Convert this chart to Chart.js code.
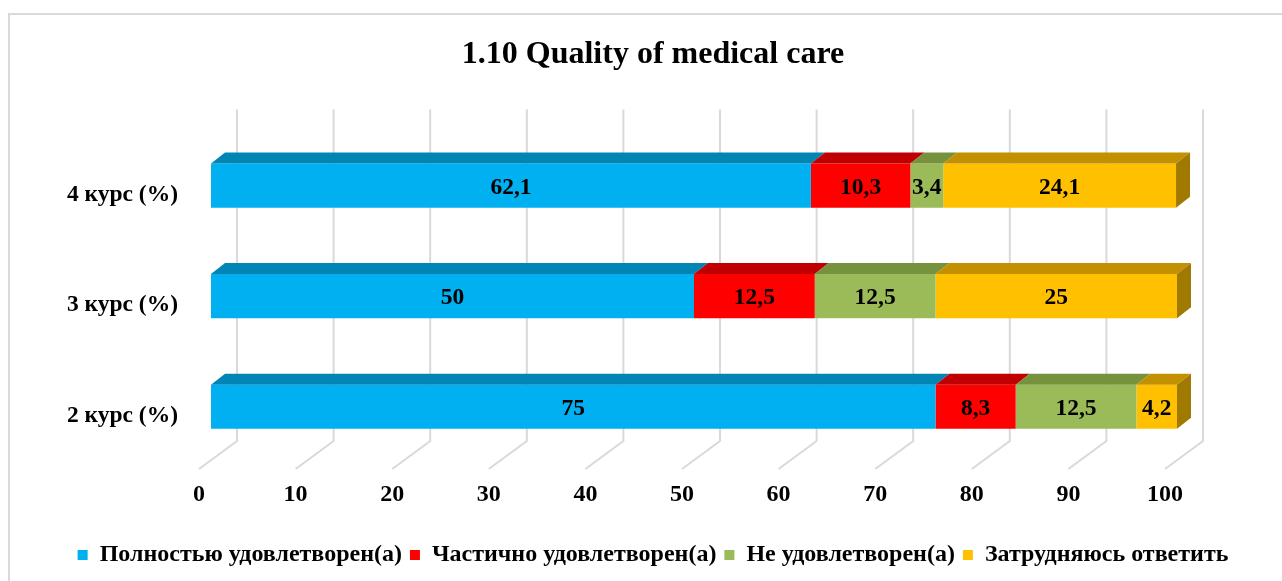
<!DOCTYPE html>
<html>
<head>
<meta charset="utf-8">
<script src="https://cdn.jsdelivr.net/npm/chart.js@4.4.1/dist/chart.umd.min.js"></script>
<style>
  html, body { margin: 0; padding: 0; background: #fff; }
  #wrap { position: relative; width: 1282px; height: 581px; overflow: hidden; }
  #frame { position: absolute; left: 8px; top: 13px; width: 1300px; height: 620px; border: 2px solid #d9d9d9; }
  #chart { position: absolute; left: 0; top: 0; }
</style>
</head>
<body>
<div id="wrap">
  <div id="frame"></div>
  <canvas id="chart" width="1282" height="581"></canvas>
</div>
<script>
(function(){
  var categories = ['4 курс (%)', '3 курс (%)', '2 курс (%)'];
  var seriesNames = ['Полностью удовлетворен(а)', 'Частично удовлетворен(а)', 'Не удовлетворен(а)', 'Затрудняюсь ответить'];
  var fullySatisfied = [62.1, 50, 75];
  var partlySatisfied = [10.3, 12.5, 8.3];
  var notSatisfied = [3.4, 12.5, 12.5];
  var hardToSay = [24.1, 25, 4.2];
  var xTicks = [0, 10, 20, 30, 40, 50, 60, 70, 80, 90, 100];

  var frontColors = ['#00b0f0', '#ff0000', '#9bbb59', '#ffc000'];
  var topColors = ['#0085b5', '#c00000', '#76923c', '#c29000'];
  var sideColor = '#a07a00';
  var serif = "'Liberation Serif', 'Times New Roman', serif";

  // 3D offsets
  var BAR_DX = 14, BAR_DY = 11;
  var WALL_DX = 26, FLOOR_DX = 12;

  function fmt(v){
    return String(v).replace('.', ',');
  }

  var depthPlugin = {
    id: 'depth',
    beforeDatasetsDraw: function(chart){
      var ctx = chart.ctx, area = chart.chartArea, xs = chart.scales.x;
      var wallTop = area.top - 21, wallBottom = area.bottom - 21, floorFront = area.bottom + 7;
      ctx.save();
      ctx.strokeStyle = '#d9d9d9';
      ctx.lineWidth = 2;
      xTicks.forEach(function(v){
        var px = xs.getPixelForValue(v);
        ctx.beginPath();
        ctx.moveTo(px + WALL_DX, wallTop);
        ctx.lineTo(px + WALL_DX, wallBottom);
        ctx.lineTo(px - FLOOR_DX, floorFront);
        ctx.stroke();
      });
      ctx.fillStyle = '#000';
      ctx.font = 'bold 24px ' + serif;
      ctx.textAlign = 'center';
      ctx.textBaseline = 'middle';
      xTicks.forEach(function(v){
        ctx.fillText(String(v), xs.getPixelForValue(v) - FLOOR_DX, area.bottom + 33);
      });
      ctx.restore();
    },
    afterDatasetsDraw: function(chart){
      var ctx = chart.ctx;
      var n = chart.data.datasets.length;
      ctx.save();
      for (var d = 0; d < n; d++){
        var meta = chart.getDatasetMeta(d);
        meta.data.forEach(function(bar){
          var p = bar.getProps(['x', 'y', 'base', 'height'], true);
          var x0 = Math.min(p.base, p.x), x1 = Math.max(p.base, p.x);
          var yT = p.y - p.height / 2, yB = p.y + p.height / 2;
          ctx.fillStyle = topColors[d];
          ctx.beginPath();
          ctx.moveTo(x0, yT);
          ctx.lineTo(x1, yT);
          ctx.lineTo(x1 + BAR_DX, yT - BAR_DY);
          ctx.lineTo(x0 + BAR_DX, yT - BAR_DY);
          ctx.closePath();
          ctx.fill();
          if (d === n - 1){
            ctx.fillStyle = sideColor;
            ctx.beginPath();
            ctx.moveTo(x1, yT);
            ctx.lineTo(x1 + BAR_DX, yT - BAR_DY);
            ctx.lineTo(x1 + BAR_DX, yB - BAR_DY);
            ctx.lineTo(x1, yB);
            ctx.closePath();
            ctx.fill();
          }
        });
      }
      ctx.fillStyle = '#000';
      ctx.font = 'bold 23.5px ' + serif;
      ctx.textAlign = 'center';
      ctx.textBaseline = 'middle';
      for (var i = 0; i < n; i++){
        var m = chart.getDatasetMeta(i);
        var vals = chart.data.datasets[i].data;
        m.data.forEach(function(bar, j){
          var p = bar.getProps(['x', 'y', 'base'], true);
          ctx.fillText(fmt(vals[j]), (p.x + p.base) / 2, p.y + 2);
        });
      }
      ctx.restore();
    }
  };

  var seriesData = [fullySatisfied, partlySatisfied, notSatisfied, hardToSay];

  new Chart(document.getElementById('chart'), {
    type: 'bar',
    data: {
      labels: categories,
      datasets: seriesData.map(function(vals, i){
        return {
          label: seriesNames[i],
          data: vals,
          backgroundColor: frontColors[i],
          borderWidth: 0,
          barPercentage: 0.8,
          categoryPercentage: 0.5
        };
      })
    },
    options: {
      indexAxis: 'y',
      responsive: false,
      animation: false,
      devicePixelRatio: 1,
      layout: { padding: { left: 24, right: 0, top: 0, bottom: 4 } },
      scales: {
        x: {
          stacked: true,
          min: 0,
          max: 100,
          ticks: { display: false, stepSize: 10 },
          grid: { display: false },
          border: { display: false },
          afterFit: function(s){ s.height = 73; }
        },
        y: {
          stacked: true,
          grid: { display: false, drawTicks: false },
          border: { display: false },
          ticks: {
            color: '#000',
            padding: 33,
            labelOffset: 9,
            font: { family: serif, size: 23.5, weight: 'bold' }
          },
          afterFit: function(s){ s.width = 187; }
        },
        yRight: {
          type: 'category',
          axis: 'y',
          position: 'right',
          grid: { display: false, drawTicks: false },
          border: { display: false },
          ticks: { display: false },
          afterFit: function(s){ s.width = 105; }
        }
      },
      plugins: {
        title: {
          display: true,
          text: '1.10 Quality of medical care',
          color: '#000',
          font: { family: serif, size: 32, weight: 'bold', lineHeight: 1.2 },
          padding: { top: 36, bottom: 56 }
        },
        legend: {
          position: 'bottom',
          labels: {
            color: '#000',
            boxWidth: 10,
            boxHeight: 10,
            padding: 8,
            font: { family: serif, size: 24, weight: 'bold' }
          }
        },
        tooltip: { enabled: false }
      }
    },
    plugins: [depthPlugin]
  });
})();
</script>
</body>
</html>
